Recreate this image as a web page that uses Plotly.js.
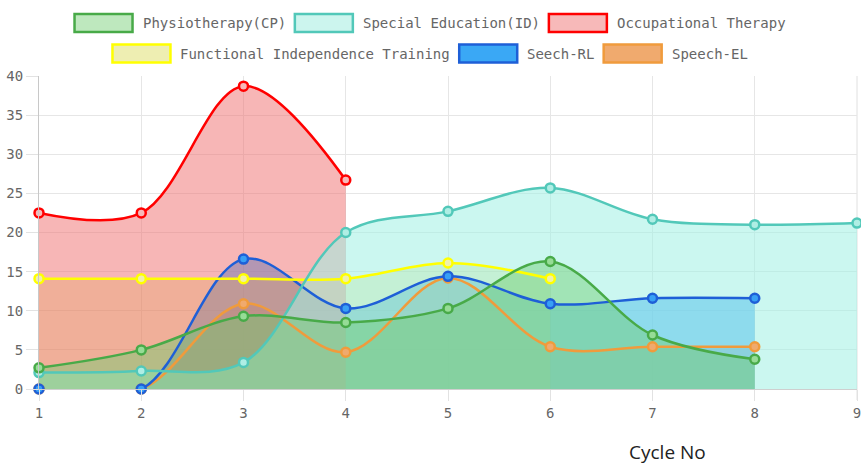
<!DOCTYPE html>
<html>
<head>
<meta charset="utf-8">
<script src="https://cdn.plot.ly/plotly-3.0.1.min.js"></script>
<style>
html,body{margin:0;padding:0;background:#fff;}
#chart{width:861px;height:467px;}
</style>
</head>
<body>
<div id="chart"></div>
<script>
// ---- data ----
var cycles = [1, 2, 3, 4, 5, 6, 7, 8, 9];
var seriesNames = ["Physiotherapy(CP)", "Special Education(ID)", "Occupational Therapy",
                   "Functional Independence Training", "Seech-RL", "Speech-EL"];
var physiotherapy = [2.7, 5.0, 9.3, 8.5, 10.3, 16.3, 6.9, 3.8];
var specialEducation = [2.1, 2.3, 3.4, 20.0, 22.7, 25.7, 21.7, 21.0, 21.2];
var occupationalTherapy = [22.5, 22.5, 38.7, 26.7];
var functionalTraining = [14.1, 14.1, 14.1, 14.1, 16.1, 14.1];
var seechRL = [0, 0, 16.6, 10.3, 14.4, 10.9, 11.6, 11.6];
var speechEL = [0, 0, 10.9, 4.7, 14.2, 5.4, 5.4, 5.4];
var xTickVals = [1, 2, 3, 4, 5, 6, 7, 8, 9];
var yTickVals = [0, 5, 10, 15, 20, 25, 30, 35, 40];
var xAxisLabel = "Cycle No";

// ---- styles ----
var seriesValues = [physiotherapy, specialEducation, occupationalTherapy, functionalTraining, seechRL, speechEL];
var lineColors = ["rgb(72,170,72)", "rgb(82,200,185)", "rgb(255,0,0)", "rgb(255,255,0)", "rgb(30,95,215)", "rgb(240,155,60)"];
var fillColors = ["rgba(110,205,110,0.45)", "rgba(160,240,228,0.55)", "rgba(240,110,110,0.5)",
                  "rgba(205,205,60,0.3)", "rgba(30,150,245,0.6)", "rgba(235,150,80,0.5)"];
var markerColors = ["rgb(150,220,150)", "rgb(175,238,228)", "rgb(247,185,185)", "rgb(240,240,170)", "rgb(56,160,245)", "rgb(240,170,110)"];
var legendFill = ["rgb(190,232,190)", "rgb(204,245,238)", "rgb(247,185,185)", "rgb(238,238,178)", "rgb(58,168,245)", "rgb(240,170,110)"];

var traces = [];
// fills first (last dataset at the bottom)
for (var i = seriesValues.length - 1; i >= 0; i--) {
  var ys = seriesValues[i];
  traces.push({
    type: "scatter", mode: "lines", name: seriesNames[i],
    x: cycles.slice(0, ys.length), y: ys,
    fill: "tozeroy", fillcolor: fillColors[i],
    line: {color: "rgba(0,0,0,0)", width: 0, shape: "spline", smoothing: 1},
    showlegend: false, hoverinfo: "skip"
  });
}
// lines and points on top
for (var j = seriesValues.length - 1; j >= 0; j--) {
  var ys2 = seriesValues[j];
  traces.push({
    type: "scatter", mode: "lines+markers", name: seriesNames[j],
    x: cycles.slice(0, ys2.length), y: ys2,
    line: {color: lineColors[j], width: 2.5, shape: "spline", smoothing: 1},
    marker: {size: 9, color: markerColors[j], line: {color: lineColors[j], width: 2.5}},
    cliponaxis: false,
    showlegend: false, hoverinfo: "x+y+name"
  });
}

// ---- custom legend (Chart.js style boxes) ----
var W = 861, plotL = 39, plotR = 857, plotT = 76, plotB = 389;
var pw = plotR - plotL, ph = plotB - plotT;
function px2x(p){ return (p - plotL) / pw; }
function py2y(p){ return (plotB - p) / ph; }
var charW = 8.43, boxW = 60, boxH = 20, gap = 7, pad = 10;
var rows = [[0, 1, 2], [3, 4, 5]];
var rowCenters = [23, 53.5];
var shapes = [], annotations = [];
rows.forEach(function(row, r){
  var total = 0;
  row.forEach(function(k, j){
    total += boxW + gap + seriesNames[k].length * charW + (j < row.length - 1 ? pad : 0);
  });
  var cx = (W - total) / 2 - 2;
  row.forEach(function(k){
    var cy = rowCenters[r];
    shapes.push({type: "rect", xref: "paper", yref: "paper",
      x0: px2x(cx + 1), x1: px2x(cx + boxW - 1), y0: py2y(cy + boxH/2 - 1), y1: py2y(cy - boxH/2 + 1),
      fillcolor: legendFill[k], line: {color: lineColors[k], width: 2.5}});
    annotations.push({xref: "paper", yref: "paper", x: px2x(cx + boxW + gap), y: py2y(cy),
      xanchor: "left", yanchor: "middle", text: seriesNames[k], showarrow: false,
      font: {family: "DejaVu Sans Mono, monospace", size: 14, color: "#666"}});
    cx += boxW + gap + seriesNames[k].length * charW + pad;
  });
});
// right border of the plot area (grid line at the last x tick)
shapes.push({type: "line", xref: "paper", yref: "paper", x0: 1, x1: 1, y0: 0, y1: 1,
  line: {color: "#e0e0e0", width: 1}, layer: "below"});
shapes.push({type: "line", xref: "paper", yref: "paper", x0: 1, x1: 1, y0: 0, y1: -11/ph,
  line: {color: "#e2e2e2", width: 1}, layer: "below"});
annotations.push({xref: "paper", yref: "paper", x: px2x(667), y: py2y(452),
  xanchor: "center", yanchor: "middle", text: xAxisLabel, showarrow: false,
  font: {family: "Open Sans, sans-serif", size: 19, color: "#222"}});

var layout = {
  width: 861, height: 467,
  margin: {l: plotL, r: W - plotR, t: plotT, b: 467 - plotB, pad: 0},
  paper_bgcolor: "#fff", plot_bgcolor: "#fff",
  showlegend: false,
  xaxis: {range: [1, 9], tickvals: xTickVals, ticks: "outside", ticklen: 11, tickcolor: "#e2e2e2",
          showgrid: true, gridcolor: "#e6e6e6", gridwidth: 1, zeroline: false,
          showline: true, linecolor: "#cfcfcf", linewidth: 1, ticklabeloverflow: "allow",
          tickfont: {family: "DejaVu Sans Mono, monospace", size: 14, color: "#666"}},
  yaxis: {range: [0, 40], tickvals: yTickVals, ticks: "outside", ticklen: 12, tickcolor: "#e2e2e2",
          showgrid: true, gridcolor: "#e6e6e6", gridwidth: 1, zeroline: false,
          showline: true, linecolor: "#c8c8c8", linewidth: 1, ticklabeloverflow: "allow",
          tickfont: {family: "DejaVu Sans Mono, monospace", size: 14, color: "#666"}},
  shapes: shapes,
  annotations: annotations
};

Plotly.newPlot("chart", traces, layout, {displayModeBar: false, staticPlot: true});
</script>
</body>
</html>
